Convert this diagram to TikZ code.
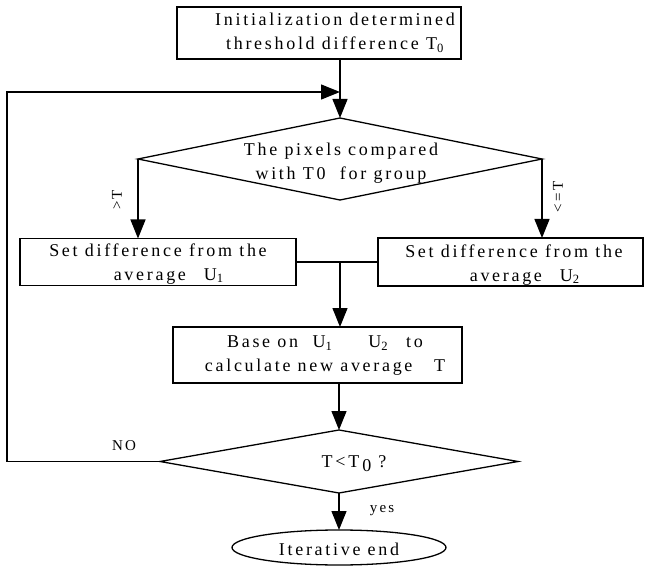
\documentclass[tikz,border=0pt]{standalone}
\usepackage{fontspec}
\setmainfont{Liberation Serif}[LetterSpace=15]
\usetikzlibrary{shapes.geometric,arrows.meta}
\begin{document}
\begin{tikzpicture}[x=1pt,y=-1pt, line width=1.3pt,
 box/.style={draw, rectangle, inner sep=0pt, outer sep=0pt},
 dia/.style={draw, diamond, inner sep=0pt, outer sep=0pt},
 txt/.style={font=\fontsize{18}{24}\selectfont, align=center, inner sep=0pt},
 arr/.style={-{Triangle[length=19pt,width=15pt]}},
 lbl/.style={font=\fontsize{15}{15}\selectfont, inner sep=0pt}]
\useasboundingbox (0,0) rectangle (646,567);
% shapes
\node[box, minimum width=284pt, minimum height=52pt] (init) at (319,33) {};
\node[txt] (initT) at (335,33) {Initialization determined\\threshold difference T\textsubscript{0}};
\node[dia, minimum width=404pt, minimum height=82pt] (cmp) at (340,159) {};
\node[txt] (cmpT) at (341,163) {The pixels compared\\with T0\ \ for group};
\node[box, minimum width=276pt, minimum height=47pt] (left) at (158,262) {};
\node[txt] (leftT) at (158,264) {Set difference from the\\\ \ \ average\quad U\textsubscript{1}};
\node[box, minimum width=265pt, minimum height=48pt] (right) at (510.5,262) {};
\node[txt] (rightT) at (514,265) {Set difference from the\\\ \ \ average\quad U\textsubscript{2}};
\node[box, minimum width=289pt, minimum height=56pt] (calc) at (317.5,355) {};
\node[txt] (calcT) at (325,356) {Base on\ \ U\textsubscript{1}\qquad U\textsubscript{2}\quad to\\calculate new average\ \ \ T};
\node[dia, minimum width=358pt, minimum height=63pt] (chk) at (339,461.5) {};
\node[txt] (chkT) at (354,464) {T$\,$<T\,\raisebox{-0.5ex}{0} ?};
\node[draw, ellipse, inner sep=0pt, outer sep=0pt, minimum width=214pt, minimum height=35pt] (fin) at (339,547.5) {};
\node[txt] (finT) at (339,549) {Iterative end};
% labels
\node[lbl, rotate=90] (gt) at (117,200) {>T};
\node[lbl, rotate=90] (le) at (558,197) {<=T};
\node[lbl] (no) at (124,446) {NO};
\node[lbl] (yes) at (382,511) {yes};
% connectors
\coordinate (fb) at (7,92);
\draw[arr] (cmp.north |- init.south) -- (cmp.north);
\draw[arr] (chk.west) -- (chk.west -| fb) -- (fb) -- (fb -| cmp.north);
\draw[arr] (cmp.west) -- (cmp.west |- left.north);
\draw[arr] (cmp.east) -- (cmp.east |- right.north);
\draw (left.east) -- (right.west);
\coordinate (j) at (cmp.south |- left.east);
\draw[arr] (j) -- (j |- calc.north);
\draw[arr] (chk.north |- calc.south) -- (chk.north);
\draw[arr] (chk.south) -- (fin.north);
\end{tikzpicture}
\end{document}
